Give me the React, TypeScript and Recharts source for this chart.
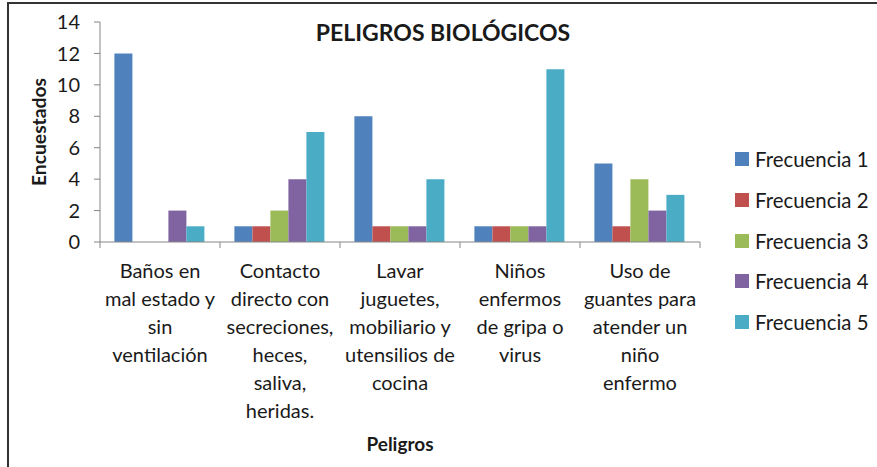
import { Bar, BarChart, XAxis, YAxis } from "recharts";

const categories = [
  "Baños en\nmal estado y\nsin\nventilación",
  "Contacto\ndirecto con\nsecreciones,\nheces,\nsaliva,\nheridas.",
  "Lavar\njuguetes,\nmobiliario y\nutensilios de\ncocina",
  "Niños\nenfermos\nde gripa o\nvirus",
  "Uso de\nguantes para\natender un\nniño\nenfermo",
];
const frecuencia1 = [12, 1, 8, 1, 5];
const frecuencia2 = [0, 1, 1, 1, 1];
const frecuencia3 = [0, 2, 1, 1, 4];
const frecuencia4 = [2, 4, 1, 1, 2];
const frecuencia5 = [1, 7, 4, 11, 3];
const yTicks = [0, 2, 4, 6, 8, 10, 12, 14];

const series = [
  { key: "f1", name: "Frecuencia 1", values: frecuencia1, color: "#4F81BD" },
  { key: "f2", name: "Frecuencia 2", values: frecuencia2, color: "#C0504D" },
  { key: "f3", name: "Frecuencia 3", values: frecuencia3, color: "#9BBB59" },
  { key: "f4", name: "Frecuencia 4", values: frecuencia4, color: "#8064A2" },
  { key: "f5", name: "Frecuencia 5", values: frecuencia5, color: "#4BACC6" },
];

const FONT = "Lato, 'Open Sans', sans-serif";
const TEXT = "#1a1a1a";
const AXIS = "#868686";
const PLOT_W = 600;

const data = categories.map((name, i) => {
  const row: Record<string, string | number> = { name };
  series.forEach((s) => (row[s.key] = s.values[i]));
  return row;
});

function CategoryTick(props: any) {
  const { x, y, payload, index } = props;
  const half = PLOT_W / categories.length / 2;
  const lines = String(payload.value).split("\n");
  const top = y - 8;
  return (
    <g>
      <line x1={x - half} x2={x - half} y1={top} y2={top + 6} stroke={AXIS} />
      {index === categories.length - 1 && (
        <line x1={x + half} x2={x + half} y1={top} y2={top + 6} stroke={AXIS} />
      )}
      <text x={x} y={top + 36} textAnchor="middle" fontSize={20} fill={TEXT} fontFamily={FONT}>
        {lines.map((line, i) => (
          <tspan key={i} x={x} dy={i === 0 ? 0 : 28}>
            {line}
          </tspan>
        ))}
      </text>
    </g>
  );
}

export default function App() {
  return (
    <div style={{ position: "absolute", left: 0, top: 0, width: 877, height: 467, background: "#fff", fontFamily: FONT }}>
      <div
        style={{
          position: "absolute",
          left: 7,
          top: 2,
          width: 870,
          height: 465,
          borderTop: "2px solid #333",
          borderLeft: "2px solid #333",
          boxSizing: "border-box",
        }}
      />
      <BarChart
        width={877}
        height={467}
        data={data}
        margin={{ top: 22, right: 177, left: 0, bottom: 0 }}
        barCategoryGap="12%"
        barGap={0}
      >
        <XAxis
          dataKey="name"
          height={225}
          stroke={AXIS}
          tickLine={false}
          interval={0}
          tick={<CategoryTick />}
        />
        <YAxis
          width={100}
          domain={[0, 14]}
          ticks={yTicks}
          stroke={AXIS}
          tickSize={6}
          tickMargin={14}
          tick={{ fontSize: 20, fill: TEXT, fontFamily: FONT }}
        />
        {series.map((s) => (
          <Bar key={s.key} dataKey={s.key} name={s.name} fill={s.color} isAnimationActive={false} />
        ))}
      </BarChart>
      <div
        style={{
          position: "absolute",
          left: 443,
          top: 32,
          transform: "translate(-50%, -50%)",
          fontSize: 23,
          fontWeight: 700,
          color: TEXT,
          whiteSpace: "nowrap",
        }}
      >
        PELIGROS BIOLÓGICOS
      </div>
      <div
        style={{
          position: "absolute",
          left: 38,
          top: 132,
          transform: "translate(-50%, -50%) rotate(-90deg)",
          fontSize: 19.3,
          fontWeight: 700,
          color: TEXT,
          whiteSpace: "nowrap",
        }}
      >
        Encuestados
      </div>
      <div
        style={{
          position: "absolute",
          left: 400,
          top: 443,
          transform: "translate(-50%, -50%)",
          fontSize: 19,
          fontWeight: 700,
          color: TEXT,
          whiteSpace: "nowrap",
        }}
      >
        Peligros
      </div>
      {series.map((s, i) => (
        <div
          key={s.key}
          style={{
            position: "absolute",
            left: 735,
            top: 159 + i * 40.8,
            transform: "translateY(-50%)",
            display: "flex",
            alignItems: "center",
            fontSize: 20.4,
            color: TEXT,
            whiteSpace: "nowrap",
          }}
        >
          <span style={{ display: "inline-block", width: 14, height: 14, background: s.color, marginRight: 6 }} />
          {s.name}
        </div>
      ))}
    </div>
  );
}
